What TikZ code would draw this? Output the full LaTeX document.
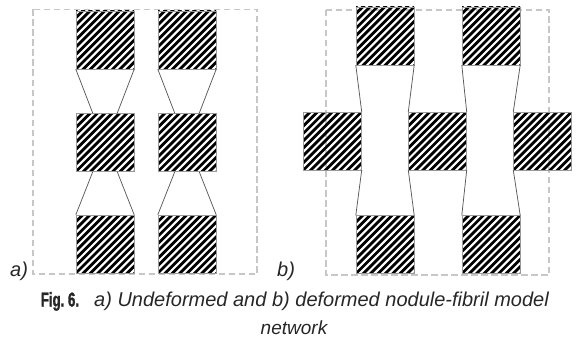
\documentclass[tikz,border=0pt]{standalone}
\usepackage{fontspec}
\setmainfont{Liberation Sans}
\usetikzlibrary{calc}

\tikzset{
  nodule/.style={draw=black!40, line width=0.4pt, inner sep=0pt,
    minimum width=58pt, minimum height=58pt,
    path picture={
      \foreach \k in {-12,...,12}
        \draw[black, line width=2.8pt]
          ($(path picture bounding box.center)+(\k*7.35pt-45pt,-45pt)$) -- ++(90pt,90pt);
    }},
  fibril/.style={draw=black!65, line width=0.75pt},
  frame/.style={draw=black!22, line width=1.6pt, dash pattern=on 6.5pt off 3.5pt},
  lbl/.style={font=\itshape\fontsize{20}{24}\selectfont, inner sep=0pt, text=black!85},
  captext/.style={font=\fontsize{20}{24}\selectfont, inner sep=0pt, text=black!85}
}

\begin{document}
\begin{tikzpicture}[x=1pt,y=-1pt]
  \useasboundingbox (0,0) rectangle (578,337);

  % frames of the two networks
  \draw[frame] (33,9.5) rectangle (257,274);
  \draw[frame] (326,10) rectangle (549,275);

  % (a) undeformed network: two columns of three nodules
  \node[nodule] (a11) at (105,40) {};
  \node[nodule] (a21) at (105,142.5) {};
  \node[nodule] (a31) at (105,244) {};
  \node[nodule] (a12) at (187,40) {};
  \node[nodule] (a22) at (187,142.5) {};
  \node[nodule] (a32) at (187,244) {};

  % fibrils narrowing towards the middle nodules
  \foreach \c in {1,2}{
    \draw[fibril] (a1\c.south west) -- ($(a2\c.north west)+(17,0)$);
    \draw[fibril] (a1\c.south east) -- ($(a2\c.north east)+(-17,0)$);
    \draw[fibril] ($(a2\c.south west)+(17,0)$) -- (a3\c.north west);
    \draw[fibril] ($(a2\c.south east)+(-17,0)$) -- (a3\c.north east);
  }

  % (b) deformed network: middle nodules pushed sideways
  \node[nodule] (b11) at (385,36) {};
  \node[nodule] (b12) at (491,36) {};
  \node[nodule] (b31) at (385,244.5) {};
  \node[nodule] (b32) at (491,244.5) {};
  \node[nodule] (b21) at (332.5,141) {};
  \node[nodule] (b22) at (437.5,141) {};
  \node[nodule] (b23) at (542.5,141) {};

  % stretched fibrils between the nodules
  \draw[fibril] (b11.south west) -- (b21.north east);
  \draw[fibril] (b21.south east) -- (b31.north west);
  \draw[fibril] (b11.south east) -- (b22.north west);
  \draw[fibril] (b22.south west) -- (b31.north east);
  \draw[fibril] (b12.south west) -- (b22.north east);
  \draw[fibril] (b22.south east) -- (b32.north west);
  \draw[fibril] (b12.south east) -- (b23.north west);
  \draw[fibril] (b23.south west) -- (b32.north east);

  % panel labels
  \node[lbl, anchor=base west] (la) at (10,276) {a)};
  \node[lbl, anchor=base west] (lb) at (277,276) {b)};

  % caption
  \node[captext, anchor=base west] (cfig) at (40.7,306.5)
    {\bfseries\addfontfeature{FakeStretch=0.66,FakeBold=1.6}Fig.\ 6.};
  \node[captext, anchor=base west] (c1) at (94,306.5)
    {\itshape a) Undeformed and b) deformed nodule-fibril model};
  \node[captext, anchor=base, font=\itshape\fontsize{19}{24}\selectfont] (c2) at (294,334.5) {network};
\end{tikzpicture}
\end{document}
